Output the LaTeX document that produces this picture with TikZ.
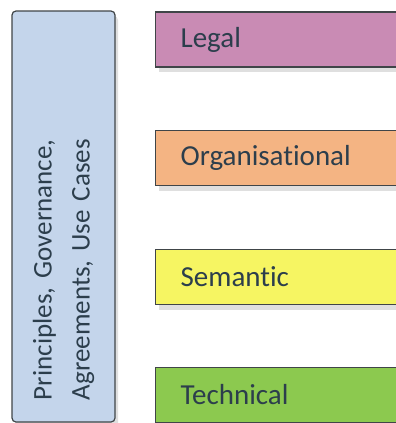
\documentclass[tikz,border=0pt]{standalone}
\usepackage{fontspec}
\setmainfont{Carlito}[Ligatures={NoCommon}]
\usetikzlibrary{shadows}

\definecolor{frameblue}{HTML}{C4D5EB}
\definecolor{legalpink}{HTML}{C98BB4}
\definecolor{orgpeach}{HTML}{F4B483}
\definecolor{semyellow}{HTML}{F6F562}
\definecolor{techgreen}{HTML}{8CC94F}
\definecolor{edgegrey}{HTML}{404548}
\definecolor{textslate}{HTML}{2C3E4C}

\begin{document}
\begin{tikzpicture}[x=1pt,y=-1pt,
    box/.style={draw=edgegrey, line width=1.2pt, text=textslate,
      drop shadow={shadow xshift=3pt, shadow yshift=-5pt, opacity=0.25}},
    layer/.style={box, anchor=west, minimum height=55pt, inner xsep=25pt,
      text width=240pt, align=left, font=\fontsize{29}{35}\selectfont}]
  \useasboundingbox (0,0) rectangle (396,423);
  \clip (0,0) rectangle (396,423);

  % framework column
  \node [box, fill=frameblue, rounded corners=4pt, rotate=90,
    minimum width=411pt, minimum height=103pt, inner xsep=22pt,
    text width=367pt, align=left, font=\fontsize{27}{38}\selectfont]
    (frame) at (63.5,216.5) {Principles, Governance,\\Agreements, Use Cases};

  % layers
  \node [layer, fill=legalpink]  (legal) at (155,39.5)  {Legal};
  \node [layer, fill=orgpeach]   (org)   at (155,158)   {Organisational};
  \node [layer, fill=semyellow]  (sem)   at (155,277)   {Semantic};
  \node [layer, fill=techgreen]  (tech)  at (155,395)   {Technical};

\end{tikzpicture}
\end{document}
